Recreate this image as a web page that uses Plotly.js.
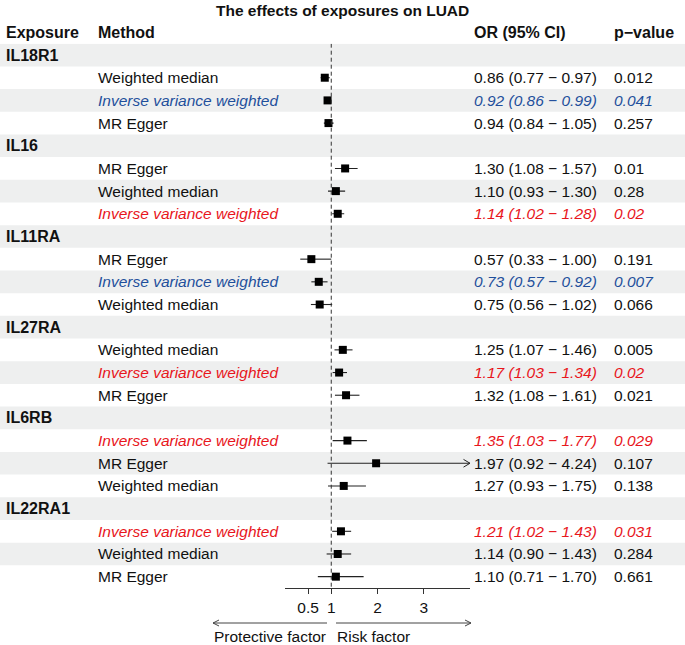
<!DOCTYPE html>
<html>
<head>
<meta charset="utf-8">
<script src="https://cdn.plot.ly/plotly-3.0.1.min.js"></script>
<style>html,body{margin:0;padding:0;background:#fff;}#chart{width:685px;height:645px;}</style>
</head>
<body>
<div id="chart"></div>
<script>
// ---------- DATA ----------
const exposures = ['IL18R1', 'IL16', 'IL11RA', 'IL27RA', 'IL6RB', 'IL22RA1'];
const methodExposure = [0,0,0, 1,1,1, 2,2,2, 3,3,3, 4,4,4, 5,5,5];
const methodName = [
  'Weighted median', 'Inverse variance weighted', 'MR Egger',
  'MR Egger', 'Weighted median', 'Inverse variance weighted',
  'MR Egger', 'Inverse variance weighted', 'Weighted median',
  'Weighted median', 'Inverse variance weighted', 'MR Egger',
  'Inverse variance weighted', 'MR Egger', 'Weighted median',
  'Inverse variance weighted', 'Weighted median', 'MR Egger'
];
const orValue = [0.86, 0.92, 0.94, 1.30, 1.10, 1.14, 0.57, 0.73, 0.75, 1.25, 1.17, 1.32, 1.35, 1.97, 1.27, 1.21, 1.14, 1.10];
const ciLower = [0.77, 0.86, 0.84, 1.08, 0.93, 1.02, 0.33, 0.57, 0.56, 1.07, 1.03, 1.08, 1.03, 0.92, 0.93, 1.02, 0.90, 0.71];
const ciUpper = [0.97, 0.99, 1.05, 1.57, 1.30, 1.28, 1.00, 0.92, 1.02, 1.46, 1.34, 1.61, 1.77, 4.24, 1.75, 1.43, 1.43, 1.70];
const pValue = ['0.012', '0.041', '0.257', '0.01', '0.28', '0.02', '0.191', '0.007', '0.066', '0.005', '0.02', '0.021', '0.029', '0.107', '0.138', '0.031', '0.284', '0.661'];
const tickValues = [0.5, 1, 2, 3];
const tickLabels = ['0.5', '1', '2', '3'];
const headers = ['Exposure', 'Method', 'OR (95% CI)', 'p\u2212value'];
const titleText = 'The effects of exposures on LUAD';
const arrowLabels = ['Protective factor', 'Risk factor'];

// ---------- LAYOUT HELPERS ----------
const W = 685, H = 645;
const px = x => x / W;
const py = y => 1 - y / H;
const XMIN = 0, XMAX = 4;
const FONT = '"Liberation Sans", Arial, Helvetica, sans-serif';
const BLUE = '#1f4f9c', RED = '#e8161c', INK = '#111111';
const colX = {exp: 4, method: 96, or: 472, p: 612};

// rows: each exposure has a header row followed by its method rows
const nRows = exposures.length * 4;
const rowOf = i => methodExposure[i] * 4 + 1 + (i - methodExposure[i] * 3);

const annotations = [];
const shapes = [];

// bands
for (let r = 0; r < nRows; r += 2) {
  shapes.push({type: 'rect', xref: 'paper', yref: 'y', x0: 0, x1: 1, y0: r - 0.5, y1: r + 0.5,
    fillcolor: '#eeefef', line: {width: 0}, layer: 'below'});
}
// reference line at OR = 1
shapes.push({type: 'line', xref: 'x', yref: 'y', x0: 1, x1: 1, y0: -0.5, y1: nRows - 0.5,
  line: {color: '#333', width: 1, dash: '4px,3px'}, layer: 'above'});

// title
annotations.push({text: '<b>' + titleText + '</b>', xref: 'paper', yref: 'paper', x: 0.5, y: py(10),
  xanchor: 'center', yanchor: 'middle', showarrow: false, font: {family: FONT, size: 15.5, color: INK}});
// headers
const hx = [colX.exp, colX.method, colX.or, colX.p];
headers.forEach((h, k) => annotations.push({text: '<b>' + h + '</b>', xref: 'paper', yref: 'paper',
  x: px(hx[k]), y: py(33), xanchor: 'left', yanchor: 'middle', showarrow: false,
  font: {family: FONT, size: 16, color: INK}}));
// exposure labels
exposures.forEach((e, k) => annotations.push({text: '<b>' + e + '</b>', xref: 'paper', yref: 'y',
  x: px(colX.exp), y: k * 4, xanchor: 'left', yanchor: 'middle', showarrow: false,
  font: {family: FONT, size: 16, color: INK}}));

// method rows
const lineX = [], lineY = [], mx = [], my = [];
methodName.forEach((m, i) => {
  const r = rowOf(i);
  const sig = m === 'Inverse variance weighted' && parseFloat(pValue[i]) < 0.05;
  const col = sig ? (orValue[i] < 1 ? BLUE : RED) : INK;
  const wrap = t => sig ? '<i>' + t + '</i>' : t;
  const f = {family: FONT, size: 15.5, color: col};
  annotations.push({text: wrap(m), xref: 'paper', yref: 'y', x: px(colX.method), y: r,
    xanchor: 'left', yanchor: 'middle', showarrow: false, font: f});
  const orTxt = orValue[i].toFixed(2) + ' (' + ciLower[i].toFixed(2) + ' \u2212 ' + ciUpper[i].toFixed(2) + ')';
  annotations.push({text: wrap(orTxt), xref: 'paper', yref: 'y', x: px(colX.or), y: r,
    xanchor: 'left', yanchor: 'middle', showarrow: false, font: f});
  annotations.push({text: wrap(pValue[i]), xref: 'paper', yref: 'y', x: px(colX.p), y: r,
    xanchor: 'left', yanchor: 'middle', showarrow: false, font: f});
  const hi = Math.min(ciUpper[i], XMAX);
  lineX.push(Math.max(ciLower[i], XMIN), hi, null);
  lineY.push(r, r, null);
  if (ciUpper[i] > XMAX) {
    shapes.push({type: 'path', xref: 'x', yref: 'y',
      path: `M ${hi - 0.14},${r - 0.17} L ${hi},${r} L ${hi - 0.14},${r + 0.17}`,
      line: {color: '#222', width: 1}});
  }
  mx.push(orValue[i]); my.push(r);
});

// bottom direction arrows
const ay = py(623);
const arr = (x0, x1) => {
  const d = x1 > x0 ? -1 : 1;
  shapes.push({type: 'path', xref: 'paper', yref: 'paper',
    path: `M ${px(x0)},${ay} L ${px(x1)},${ay} M ${px(x1 + d * 6)},${py(620)} L ${px(x1)},${ay} L ${px(x1 + d * 6)},${py(626)}`,
    line: {color: '#444', width: 1}});
};
arr(327, 213);
arr(336, 471);
annotations.push({text: arrowLabels[0], xref: 'paper', yref: 'paper', x: px(212), y: py(636),
  xanchor: 'left', yanchor: 'middle', showarrow: false, font: {family: FONT, size: 15.5, color: INK}});
annotations.push({text: arrowLabels[1], xref: 'paper', yref: 'paper', x: px(335), y: py(636),
  xanchor: 'left', yanchor: 'middle', showarrow: false, font: {family: FONT, size: 15.5, color: INK}});

const traces = [
  {type: 'scatter', mode: 'lines', x: lineX, y: lineY, line: {color: '#222', width: 1.1},
    hoverinfo: 'skip', showlegend: false, cliponaxis: false},
  {type: 'scatter', mode: 'markers', x: mx, y: my,
    marker: {symbol: 'square', size: 8, color: '#000'}, showlegend: false, cliponaxis: false}
];

const layout = {
  width: W, height: H,
  margin: {l: 0, r: 0, t: 0, b: 0},
  paper_bgcolor: '#fff', plot_bgcolor: 'rgba(0,0,0,0)',
  showlegend: false,
  xaxis: {domain: [px(285), px(470)], range: [XMIN, XMAX], tickvals: tickValues, ticktext: tickLabels,
    ticks: 'outside', ticklen: 5, tickcolor: '#333', showline: true, linecolor: '#333', linewidth: 1,
    showgrid: false, zeroline: false, tickfont: {family: FONT, size: 15.5, color: INK}, fixedrange: true},
  yaxis: {domain: [py(588), py(43.7)], range: [nRows - 0.5, -0.5], showticklabels: false,
    showgrid: false, zeroline: false, showline: false, ticks: '', fixedrange: true},
  annotations: annotations,
  shapes: shapes
};

Plotly.newPlot('chart', traces, layout, {displayModeBar: false, staticPlot: true});
</script>
</body>
</html>
